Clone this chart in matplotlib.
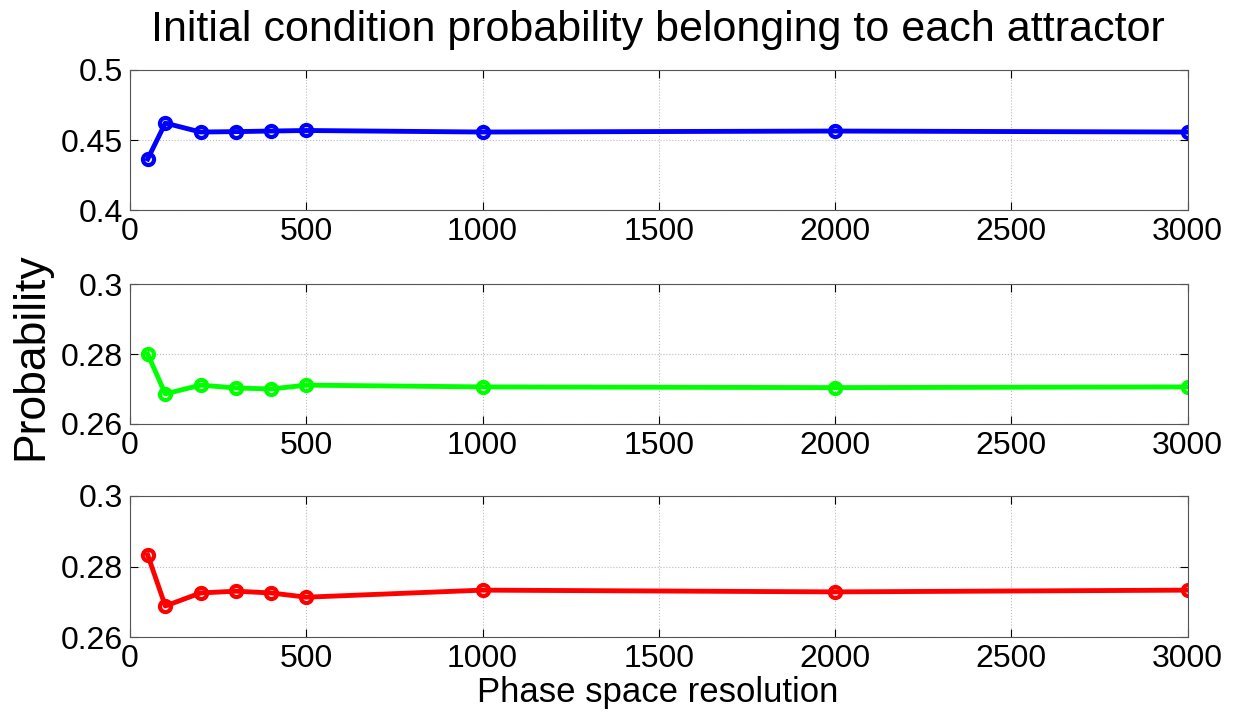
import numpy as np
import matplotlib.pyplot as plt

plt.rcParams['font.family'] = ['Liberation Sans', 'DejaVu Sans']

resolution = [50, 100, 200, 300, 400, 500, 1000, 2000, 3000]
prob_blue = [0.4364, 0.4621, 0.4557, 0.4560, 0.4564, 0.4568, 0.4557, 0.4564, 0.4557]
prob_green = [0.2800, 0.2686, 0.2711, 0.2703, 0.2700, 0.2711, 0.2706, 0.2704, 0.2706]
prob_red = [0.2833, 0.2688, 0.2725, 0.2730, 0.2725, 0.2713, 0.2733, 0.2728, 0.2733]

series = [prob_blue, prob_green, prob_red]
colors = ['#0000ff', '#00ff00', '#ff0000']
ylims = [(0.4, 0.5), (0.26, 0.3), (0.26, 0.3)]
yticks = [[0.4, 0.45, 0.5], [0.26, 0.28, 0.3], [0.26, 0.28, 0.3]]
ytick_labels = [['0.4', '0.45', '0.5'], ['0.26', '0.28', '0.3'], ['0.26', '0.28', '0.3']]
xticks = [0, 500, 1000, 1500, 2000, 2500, 3000]

fig = plt.figure(figsize=(12.41, 7.12), dpi=100)
boxes = [(0.705, 0.9017), (0.4045, 0.6011), (0.1053, 0.3034)]
left, right = 0.1048, 0.957

for i in range(3):
    b, t = boxes[i]
    ax = fig.add_axes([left, b, right - left, t - b])
    ax.plot(resolution, series[i], '-o', color=colors[i], lw=3.5,
            markersize=8, markerfacecolor='none', markeredgewidth=3)
    ax.set_xlim(0, 3000)
    ax.set_ylim(*ylims[i])
    ax.set_xticks(xticks)
    ax.set_yticks(yticks[i])
    ax.set_yticklabels(ytick_labels[i])
    ax.grid(True, linestyle=':', color='#bbbbbb', linewidth=0.8)
    ax.tick_params(direction='in', labelsize=23, length=6, width=0.8, pad=5,
                   top=True, right=True)
    for s in ax.spines.values():
        s.set_color('#555555')
        s.set_linewidth(0.8)

fig.text(0.53, 0.958, 'Initial condition probability belonging to each attractor',
         ha='center', va='center', fontsize=31)
fig.text(0.025, 0.5, 'Probability', rotation=90, ha='center', va='center', fontsize=32)
fig.text(0.53, 0.028, 'Phase space resolution', ha='center', va='center', fontsize=25)

fig.savefig('out.png', dpi=100)
